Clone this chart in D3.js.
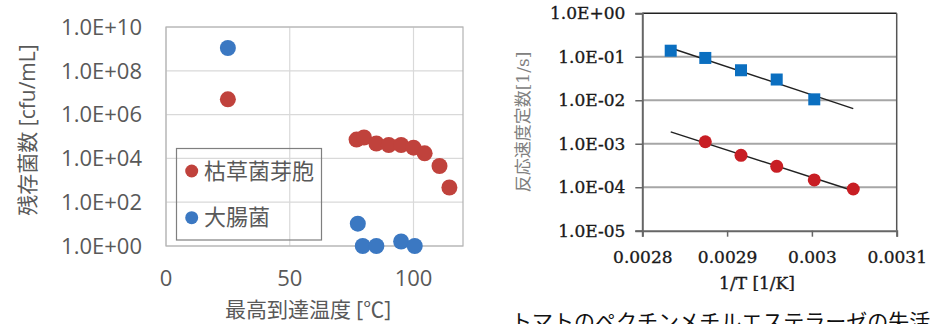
<!DOCTYPE html>
<html lang="ja">
<head>
<meta charset="utf-8">
<title>殺菌データ</title>
<script src="https://cdn.jsdelivr.net/npm/d3@7"></script>
<style>
  body { margin: 0; background: #fff; }
  svg { display: block; }
</style>
</head>
<body>
<script>
// left chart: survivors vs. peak temperature
var tempSpore = [25, 77, 80, 85, 90, 95, 100, 104.5, 110.5, 114.5];
var cfuSpore  = [5e6, 7.2e4, 9e4, 4.8e4, 4.1e4, 4.1e4, 3.1e4, 1.7e4, 4.5e3, 4.7e2];
var tempColi  = [25, 77.5, 79.5, 85, 95, 100.5];
var cfuColi   = [1.1e9, 10.5, 1, 1, 1.6, 1];
var leftXTicks = [0, 50, 100];
var leftYTicks = [1, 1e2, 1e4, 1e6, 1e8, 1e10];
var leftNames  = ["枯草菌芽胞", "大腸菌"];

// right chart: rate constant vs 1/T
var invTBlue = [0.0028335, 0.0028743, 0.0029164, 0.0029585, 0.0030028];
var kBlue    = [0.138, 0.094, 0.049, 0.030, 0.0105];
var invTRed  = [0.0028743, 0.0029164, 0.0029585, 0.0030028, 0.0030488];
var kRed     = [0.00111, 0.000542, 0.000303, 0.000147, 0.000091];
var rightXTicks = [0.0028, 0.0029, 0.003, 0.0031];
var rightYTicks = [1e-5, 1e-4, 1e-3, 1e-2, 1e-1, 1];

var svg = d3.select("body").append("svg")
            .attr("width", 930)
            .attr("height", 324);

function sci(d) {
  var e = Math.round(Math.log10(d));
  var s = Math.abs(e) < 10 ? "0" + Math.abs(e) : "" + Math.abs(e);
  return "1.0E" + (e < 0 ? "-" : "+") + s;
}

// ---------- left chart ----------
var sansJP = "'Open Sans','Noto Sans CJK JP',sans-serif";
var x1 = d3.scaleLinear().domain([0, 120]).range([166, 463]);
var y1 = d3.scaleLog().domain([1, 1e10]).range([246, 27]);
var g1 = svg.append("g");

// grid
g1.selectAll("line.hg").data(leftYTicks).enter().append("line")
  .attr("x1", x1(0)).attr("x2", x1(120))
  .attr("y1", function(d) { return y1(d); }).attr("y2", function(d) { return y1(d); })
  .attr("stroke", "#d9d9d9").attr("stroke-width", 1.2);
g1.selectAll("line.vg").data(leftXTicks).enter().append("line")
  .attr("x1", function(d) { return x1(d); }).attr("x2", function(d) { return x1(d); })
  .attr("y1", y1(1e10)).attr("y2", y1(1))
  .attr("stroke", "#d9d9d9").attr("stroke-width", 1.2);
g1.append("rect")
  .attr("x", x1(0)).attr("y", y1(1e10))
  .attr("width", x1(120) - x1(0)).attr("height", y1(1) - y1(1e10))
  .attr("fill", "none").attr("stroke", "#b3b3b3").attr("stroke-width", 1.2);

// axis labels (tick text only, Excel style)
g1.selectAll("text.yt").data(leftYTicks).enter().append("text")
  .attr("x", 142).attr("y", function(d) { return y1(d); })
  .attr("dy", "0.35em").attr("text-anchor", "end")
  .attr("font-family", sansJP).attr("font-size", 22).attr("fill", "#595959")
  .text(sci);
g1.selectAll("text.xt").data(leftXTicks).enter().append("text")
  .attr("x", function(d) { return x1(d); }).attr("y", 278)
  .attr("dy", "0.35em").attr("text-anchor", "middle")
  .attr("font-family", sansJP).attr("font-size", 22).attr("fill", "#595959")
  .text(function(d) { return d; });

g1.append("text")
  .attr("x", 308).attr("y", 310).attr("dy", "0.35em")
  .attr("text-anchor", "middle")
  .attr("font-family", sansJP).attr("font-size", 21).attr("fill", "#595959")
  .text("最高到達温度 [℃]");
g1.append("text")
  .attr("transform", "translate(28,130) rotate(-90)")
  .attr("dy", "0.35em").attr("text-anchor", "middle")
  .attr("font-family", sansJP).attr("font-size", 21).attr("fill", "#595959")
  .text("残存菌数 [cfu/mL]");

// legend (transparent box)
g1.append("rect")
  .attr("x", 176.5).attr("y", 148.5).attr("width", 145).attr("height", 91.5)
  .attr("fill", "none").attr("stroke", "#7f7f7f").attr("stroke-width", 1.2);
var legColors = ["#c0423c", "#3b78c2"];
leftNames.forEach(function(n, i) {
  var cy = 171 + i * 46.7;
  g1.append("circle").attr("cx", 191.7).attr("cy", cy).attr("r", 6.5).attr("fill", legColors[i]);
  g1.append("text").attr("x", 204).attr("y", cy).attr("dy", "0.35em")
    .attr("font-family", sansJP).attr("font-size", 22).attr("fill", "#595959")
    .text(n);
});

// points
g1.selectAll("circle.spore").data(tempSpore).enter().append("circle")
  .attr("cx", function(d) { return x1(d); })
  .attr("cy", function(d, i) { return y1(cfuSpore[i]); })
  .attr("r", 8).attr("fill", legColors[0]);
g1.selectAll("circle.coli").data(tempColi).enter().append("circle")
  .attr("cx", function(d) { return x1(d); })
  .attr("cy", function(d, i) { return y1(cfuColi[i]); })
  .attr("r", 8).attr("fill", legColors[1]);

// ---------- right chart ----------
var serif = "'DejaVu Serif','Noto Sans CJK JP',serif";
var x2 = d3.scaleLinear().domain([0.0028, 0.0031]).range([642.3, 896.7]);
var y2 = d3.scaleLog().domain([1e-5, 1]).range([230.7, 13.3]);
var g2 = svg.append("g");

g2.selectAll("line.hg").data(rightYTicks.slice(1, 5)).enter().append("line")
  .attr("x1", x2(0.0028)).attr("x2", x2(0.0031))
  .attr("y1", function(d) { return y2(d); }).attr("y2", function(d) { return y2(d); })
  .attr("stroke", "#a6a6a6").attr("stroke-width", 2);

// border
g2.append("line").attr("x1", x2(0.0028)).attr("x2", x2(0.0031))
  .attr("y1", y2(1)).attr("y2", y2(1)).attr("stroke", "#222").attr("stroke-width", 1.5);
g2.append("line").attr("x1", x2(0.0031)).attr("x2", x2(0.0031))
  .attr("y1", y2(1)).attr("y2", y2(1e-5)).attr("stroke", "#555").attr("stroke-width", 1.5);

var yAx = d3.axisLeft(y2).tickValues(rightYTicks).tickFormat(sci).tickSize(7).tickPadding(10);
var yg = g2.append("g").attr("transform", "translate(" + x2(0.0028) + ",0)").call(yAx);
var xAx = d3.axisBottom(x2).tickValues(rightXTicks).tickFormat(function(d) { return +d.toFixed(4); })
            .tickSize(6).tickPadding(14);
var xg = g2.append("g").attr("transform", "translate(0," + y2(1e-5) + ")").call(xAx);
[yg, xg].forEach(function(a) {
  a.select(".domain").attr("stroke", "#666").attr("stroke-width", 2);
  a.selectAll(".tick line").attr("stroke", "#666").attr("stroke-width", 1.5);
  a.selectAll("text").attr("font-family", serif).attr("font-size", 17).attr("fill", "#1a1a1a")
    .attr("stroke", "#1a1a1a").attr("stroke-width", 0.35);
});

g2.append("text")
  .attr("x", 757).attr("y", 283).attr("dy", "0.35em").attr("text-anchor", "middle")
  .attr("font-family", serif).attr("font-size", 17).attr("fill", "#1a1a1a")
  .attr("stroke", "#1a1a1a").attr("stroke-width", 0.35)
  .text("1/T [1/K]");
g2.append("text")
  .attr("transform", "translate(523,122) rotate(-90)")
  .attr("dy", "0.35em").attr("text-anchor", "middle")
  .attr("font-family", serif).attr("font-size", 17).attr("fill", "#808080")
  .text("反応速度定数[1/s]");

// trend lines (least squares on log10 k)
function fit(xs, ks) {
  var ly = ks.map(function(k) { return Math.log10(k); });
  var mx = d3.mean(xs), my = d3.mean(ly);
  var sxy = d3.sum(xs, function(x, i) { return (x - mx) * (ly[i] - my); });
  var sxx = d3.sum(xs, function(x) { return (x - mx) * (x - mx); });
  var b = sxy / sxx;
  return function(x) { return Math.pow(10, my + b * (x - mx)); };
}
var xLo = d3.min(invTBlue.concat(invTRed)), xHi = d3.max(invTBlue.concat(invTRed));
[[invTBlue, kBlue], [invTRed, kRed]].forEach(function(s) {
  var f = fit(s[0], s[1]);
  g2.append("line")
    .attr("x1", x2(xLo)).attr("y1", y2(f(xLo)))
    .attr("x2", x2(xHi)).attr("y2", y2(f(xHi)))
    .attr("stroke", "#222").attr("stroke-width", 1.5);
});

g2.selectAll("rect.sq").data(invTBlue).enter().append("rect")
  .attr("x", function(d) { return x2(d) - 6; })
  .attr("y", function(d, i) { return y2(kBlue[i]) - 6; })
  .attr("width", 12).attr("height", 12).attr("fill", "#0b6fc0");
g2.selectAll("circle.rd").data(invTRed).enter().append("circle")
  .attr("cx", function(d) { return x2(d); })
  .attr("cy", function(d, i) { return y2(kRed[i]); })
  .attr("r", 6.5).attr("fill", "#c81e24");

// caption, cut off at the bottom edge like the source image
svg.append("text")
  .attr("x", 511).attr("y", 329)
  .attr("font-family", "'Noto Sans CJK JP',serif").attr("font-size", 21).attr("fill", "#111")
  .text("トマトのペクチンメチルエステラーゼの失活");
</script>
</body>
</html>
